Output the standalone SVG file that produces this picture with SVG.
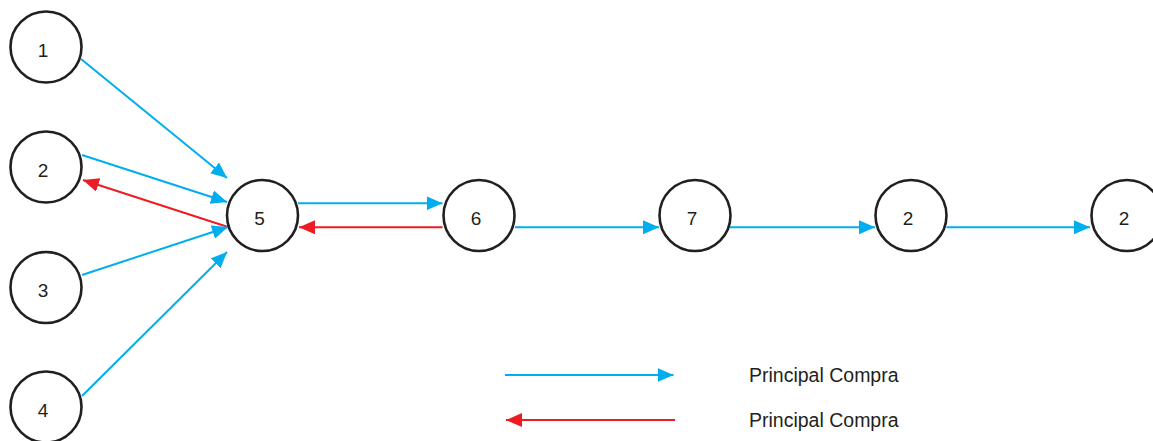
<svg xmlns="http://www.w3.org/2000/svg" width="1153" height="441" viewBox="0 0 1153 441">
<style>
.node circle{fill:#fff;stroke:#231f20;stroke-width:2.6}
.node text{font-family:"Liberation Sans",Arial,sans-serif;font-size:19px;fill:#231f20;text-anchor:middle}
.blue{stroke:#00aeef;stroke-width:2;fill:none;marker-end:url(#ab)}
.red{stroke:#ed1c24;stroke-width:2;fill:none;marker-end:url(#ar)}
.legend{font-family:"Liberation Sans",Arial,sans-serif;font-size:19.5px;fill:#231f20}
</style>
<defs>
<marker id="ab" markerUnits="userSpaceOnUse" markerWidth="16" markerHeight="14" refX="16" refY="7" orient="auto"><path d="M0,0 L16,7 L0,14 Z" fill="#00aeef"/></marker>
<marker id="ar" markerUnits="userSpaceOnUse" markerWidth="16" markerHeight="14" refX="16" refY="7" orient="auto"><path d="M0,0 L16,7 L0,14 Z" fill="#ed1c24"/></marker>
</defs>
<rect width="1153" height="441" fill="#fff"/>
<g id="connectors">
<line class="blue" x1="81" y1="59" x2="227" y2="178"/>
<line class="blue" x1="82" y1="155" x2="227" y2="202"/>
<line class="red" x1="228" y1="227" x2="83" y2="180"/>
<line class="blue" x1="82" y1="275" x2="228" y2="227"/>
<line class="blue" x1="82" y1="396" x2="227" y2="252"/>
<line class="blue" x1="298" y1="203.3" x2="442.5" y2="203.3"/>
<line class="red" x1="442.5" y1="227.3" x2="299" y2="227.3"/>
<line class="blue" x1="515" y1="227.3" x2="659" y2="227.3"/>
<line class="blue" x1="730" y1="227.3" x2="875" y2="227.3"/>
<line class="blue" x1="946.5" y1="227.3" x2="1090" y2="227.3"/>
</g>
<g id="node-1" class="node"><circle cx="46" cy="47" r="35.5"/><text x="43" y="56.5">1</text></g>
<g id="node-2" class="node"><circle cx="46" cy="167" r="35.5"/><text x="43" y="176.5">2</text></g>
<g id="node-3" class="node"><circle cx="46" cy="287.5" r="35.5"/><text x="43" y="297">3</text></g>
<g id="node-4" class="node"><circle cx="46" cy="407" r="35.5"/><text x="43" y="416.5">4</text></g>
<g id="node-5" class="node"><circle cx="262.5" cy="215.5" r="35.5"/><text x="259.5" y="225">5</text></g>
<g id="node-6" class="node"><circle cx="479" cy="215.5" r="35.5"/><text x="476" y="225">6</text></g>
<g id="node-7" class="node"><circle cx="695" cy="215.5" r="35.5"/><text x="692" y="225">7</text></g>
<g id="node-2b" class="node"><circle cx="911" cy="215.5" r="35.5"/><text x="908" y="225">2</text></g>
<g id="node-2c" class="node"><circle cx="1127" cy="215.5" r="35.5"/><text x="1124" y="225">2</text></g>
<g id="legend">
<line class="blue" x1="505" y1="375" x2="673.5" y2="375"/>
<line class="red" x1="675" y1="420" x2="506" y2="420"/>
<text class="legend" x="749" y="382">Principal Compra</text>
<text class="legend" x="749" y="427">Principal Compra</text>
</g>
</svg>
